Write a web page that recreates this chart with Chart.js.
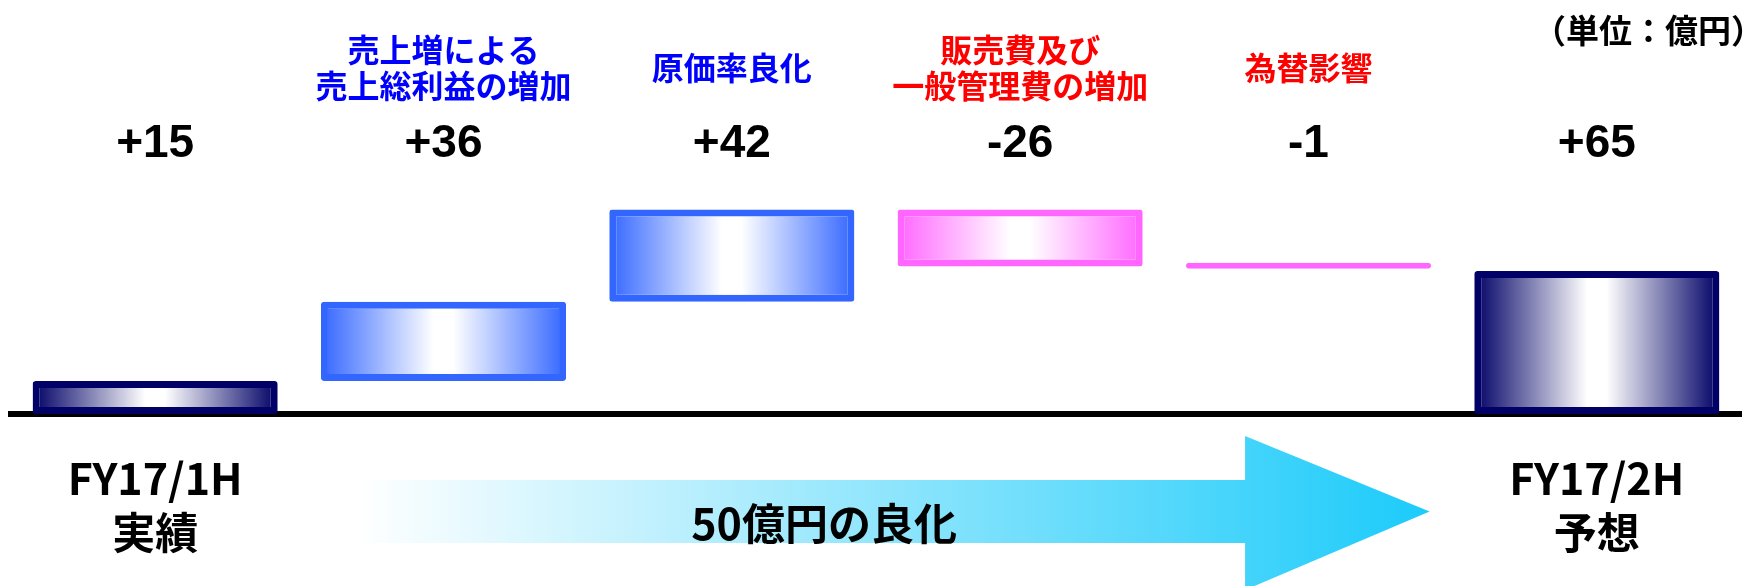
<!DOCTYPE html>
<html lang="ja">
<head>
<meta charset="utf-8">
<title>営業利益増減</title>
<script src="https://cdn.jsdelivr.net/npm/chart.js@4.4.1/dist/chart.umd.min.js"></script>
<style>
    html, body { margin: 0; padding: 0; background: #fff; }
    #wrap { width: 1755px; height: 586px; position: relative; }
</style>
</head>
<body>
<div id="wrap"><canvas id="bridgeChart"></canvas></div>
<script>
// data (億円)
const axisLabels = [['FY17/1H', '実績'], '', '', '', '', ['FY17/2H', '予想']];
const headLabels = [[], ['売上増による', '売上総利益の増加'], ['原価率良化'], ['販売費及び', '一般管理費の増加'], ['為替影響'], []];
const changes = [15, 36, 42, -26, -1, 65];
const isTotal = [true, false, false, false, false, true];
const unitLabel = '（単位：億円）';
const arrowLabel = '50億円の良化';

// styles
const headColors = ['#000000', '#0000ff', '#0000ff', '#ff0000', '#ff0000', '#000000'];
const edgeColors = ['#000066', '#3366ff', '#3366ff', '#ff66ff', '#ff66ff', '#000066'];
const BAR_PCT = 0.85;
const CJK = '"Noto Sans CJK JP", sans-serif';
const LATIN = '"Liberation Sans", Arial, "Noto Sans CJK JP", sans-serif';
const NARROW = '"Liberation Sans Narrow", "Arial Narrow", "Noto Sans CJK JP", sans-serif';

// waterfall ranges: totals start from zero, steps from the running total
let running = 0;
const ranges = changes.map((v, i) => {
    if (isTotal[i]) {
        running = v;
        return [0, v];
    }
    const r = [running, running + v];
    running += v;
    return r;
});

function barGradient(c) {
    const i = c.dataIndex;
    const xs = c.chart.scales.x;
    if (i === undefined || !xs) return edgeColors[0];
    const step = xs.getPixelForValue(1) - xs.getPixelForValue(0);
    const center = xs.getPixelForValue(i);
    const half = step * BAR_PCT / 2;
    if (!isFinite(center) || !isFinite(half) || half <= 0) return edgeColors[i];
    const g = c.chart.ctx.createLinearGradient(center - half, 0, center + half, 0);
    g.addColorStop(0, edgeColors[i]);
    g.addColorStop(0.46, '#ffffff');
    g.addColorStop(0.54, '#ffffff');
    g.addColorStop(1, edgeColors[i]);
    return g;
}

const bridgeDecor = {
    id: 'bridgeDecor',
    beforeDatasetsDraw(chart) {
        const { ctx, chartArea, scales: { x } } = chart;
        const step = x.getPixelForValue(1) - x.getPixelForValue(0);
        const base = chartArea.bottom;
        const tail = x.getPixelForValue(1) - 0.3 * step;
        const neck = x.getPixelForValue(4) - 0.22 * step;
        const tip = x.getPixelForValue(4) + 0.42 * step;
        const shaftTop = base + 66, shaftBot = base + 129;
        const headTop = base + 22, headBot = base + 176;
        const midY = (shaftTop + shaftBot) / 2;

        const g = ctx.createLinearGradient(tail, 0, tip, 0);
        g.addColorStop(0, '#ffffff');
        g.addColorStop(1, '#1ccbfa');
        ctx.save();
        ctx.fillStyle = g;
        ctx.beginPath();
        ctx.moveTo(tail, shaftTop);
        ctx.lineTo(neck, shaftTop);
        ctx.lineTo(neck, headTop);
        ctx.lineTo(tip, midY);
        ctx.lineTo(neck, headBot);
        ctx.lineTo(neck, shaftBot);
        ctx.lineTo(tail, shaftBot);
        ctx.closePath();
        ctx.fill();

        ctx.fillStyle = '#000';
        ctx.textAlign = 'center';
        ctx.textBaseline = 'middle';
        ctx.font = 'bold 43px ' + NARROW;
        ctx.fillText(arrowLabel, x.getPixelForValue(2) + 0.32 * step, midY + 12);
        ctx.restore();
    },
    afterDraw(chart) {
        const { ctx, scales: { x } } = chart;
        ctx.save();
        ctx.textAlign = 'center';
        ctx.textBaseline = 'middle';
        headLabels.forEach((lines, i) => {
            const cx = x.getPixelForValue(i);
            ctx.fillStyle = headColors[i];
            ctx.font = 'bold 32px ' + CJK;
            const first = 68 - (lines.length - 1) * 18;
            lines.forEach((t, k) => ctx.fillText(t, cx, first + k * 36));

            const v = changes[i];
            ctx.fillStyle = '#000';
            ctx.font = 'bold 46px ' + LATIN;
            ctx.fillText((v > 0 ? '+' : '') + v, cx, 144);
        });

        ctx.textAlign = 'right';
        ctx.font = 'bold 33px ' + CJK;
        ctx.fillText(unitLabel, 1764, 30);
        ctx.restore();
    }
};

document.addEventListener('DOMContentLoaded', function() {
    const ctx = document.getElementById('bridgeChart').getContext('2d');
    new Chart(ctx, {
        type: 'bar',
        data: {
            labels: axisLabels,
            datasets: [{
                label: '営業利益',
                data: ranges,
                backgroundColor: barGradient,
                borderColor: edgeColors,
                borderWidth: 7,
                borderRadius: 3,
                borderSkipped: false,
                minBarLength: 6,
                barPercentage: BAR_PCT,
                categoryPercentage: 1
            }]
        },
        options: {
            responsive: true,
            maintainAspectRatio: false,
            animation: false,
            layout: {
                padding: { top: 194, left: 11, right: 14, bottom: 0 }
            },
            plugins: {
                legend: { display: false },
                tooltip: { enabled: false }
            },
            scales: {
                x: {
                    grid: { display: false },
                    border: { display: true, color: '#000', width: 6 },
                    afterFit(scale) {
                        scale.height = 172;
                    },
                    ticks: {
                        color: '#000',
                        padding: 30,
                        maxRotation: 0,
                        autoSkip: false,
                        font: { family: NARROW, size: 43, weight: 'bold', lineHeight: '54px' }
                    }
                },
                y: {
                    display: false,
                    min: 0,
                    max: 100
                }
            }
        },
        plugins: [bridgeDecor]
    });
});
</script>
</body>
</html>
